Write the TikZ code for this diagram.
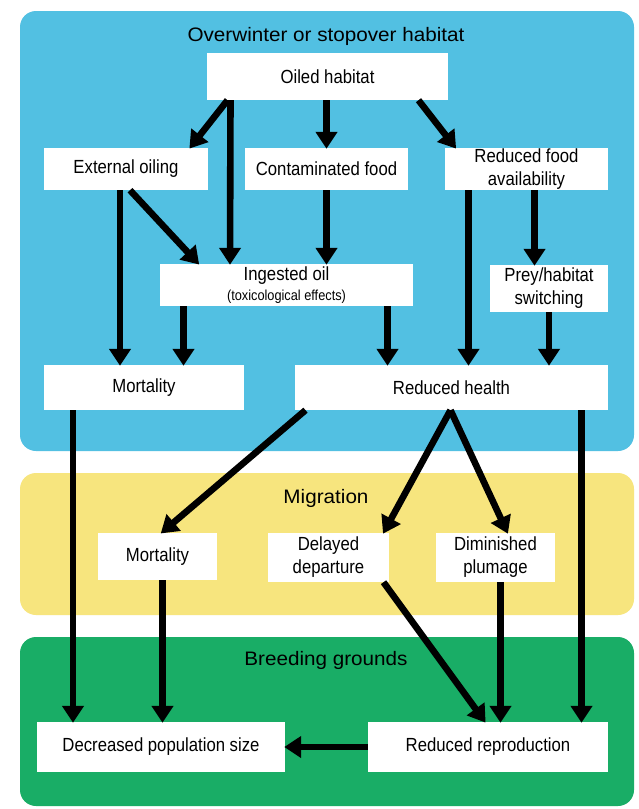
\documentclass[tikz,border=0pt]{standalone}
\usepackage{fontspec}
\setmainfont{Liberation Sans}[FakeStretch=0.88]
\newfontfamily\titlefont{Liberation Sans}[FakeStretch=1.06]
\usetikzlibrary{arrows.meta}
\definecolor{pblue}{HTML}{52C0E2}
\definecolor{pyellow}{HTML}{F7E57E}
\definecolor{pgreen}{HTML}{19AD66}
\begin{document}
\begin{tikzpicture}[x=1pt,y=-1pt,
  panel/.style={rounded corners=16pt},
  bx/.style={fill=white, inner sep=0pt, align=center, font=\fontsize{19}{23}\selectfont},
  ttl/.style={font=\titlefont\fontsize{19.5}{22}\selectfont},
  arr/.style={line width=6.6pt, -{Triangle[length=17pt,width=21pt]}, shorten >=-1pt}]
\useasboundingbox (0,0) rectangle (638,809);
\fill[white] (0,0) rectangle (638,809);
\fill[pblue, panel] (20,11) rectangle (634,451);
\fill[pyellow, panel] (20,473) rectangle (634,615);
\fill[pgreen, panel] (20,637) rectangle (634,806);

\node[ttl] (t1) at (326,36) {Overwinter or stopover habitat};
\node[ttl] (t2) at (326,498) {Migration};
\node[ttl] (t3) at (326,660) {Breeding grounds};

\node[bx, minimum width=241pt, minimum height=47pt] (oil) at (327.5,76.5) {Oiled habitat};
\node[bx, minimum width=164pt, minimum height=42pt] (ext) at (126,169) {External oiling};
\node[bx, minimum width=163pt, minimum height=42pt] (con) at (326.5,169) {Contaminated food};
\node[bx, minimum width=163pt, minimum height=42pt] (red) at (526.5,169) {Reduced food\\availability};
\node[bx, minimum width=253pt, minimum height=42pt] (ing) at (286.5,285) {Ingested oil\\[-3pt]{\fontsize{14.5}{15}\selectfont (toxicological effects)}};
\node[bx, minimum width=118pt, minimum height=47pt] (prey) at (549,288.5) {Prey/habitat\\switching};
\node[bx, minimum width=200pt, minimum height=45pt] (mort) at (144,387.5) {Mortality};
\node[bx, minimum width=313pt, minimum height=45pt] (hlth) at (451.5,387.5) {Reduced health};
\node[bx, minimum width=119pt, minimum height=47pt] (mort2) at (157.5,556.5) {Mortality};
\node[bx, minimum width=121pt, minimum height=49pt] (del) at (328.5,557.5) {Delayed\\departure};
\node[bx, minimum width=119pt, minimum height=49pt] (dim) at (495.5,557.5) {Diminished\\plumage};
\node[bx, minimum width=248pt, minimum height=50pt] (dec) at (161,747) {Decreased population size};
\node[bx, minimum width=240pt, minimum height=50pt] (rep) at (488,747) {Reduced reproduction};

% overwinter arrows
\draw[arr] ([xshift=-100pt]oil.south) -- ([xshift=64pt]ext.north);
\draw[arr] ([xshift=-97pt]oil.south) -- ([xshift=-56.5pt]ing.north);
\draw[arr] (oil.south -| con.north) -- (con.north);
\draw[arr] ([xshift=91pt]oil.south) -- ([xshift=-71pt]red.north);
\draw[arr] ([xshift=-6pt]ext.south) -- ([xshift=-6pt]ext.south |- mort.north);
\draw[arr] ([xshift=4pt]ext.south) -- ([xshift=-88pt]ing.north);
\draw[arr] (con.south) -- (con.south |- ing.north);
\draw[arr] ([xshift=-58pt]red.south) -- ([xshift=-58pt]red.south |- hlth.north);
\draw[arr] ([xshift=8pt]red.south) -- ([xshift=8pt]red.south |- prey.north);
\draw[arr] ([xshift=-103pt]ing.south) -- ([xshift=-103pt]ing.south |- mort.north);
\draw[arr] ([xshift=101pt]ing.south) -- ([xshift=101pt]ing.south |- hlth.north);
\draw[arr] (prey.south) -- (prey.south |- hlth.north);
% to migration / breeding
\draw[arr] ([xshift=-71pt]mort.south) -- ([xshift=-71pt]mort.south |- dec.north);
\draw[arr] ([xshift=-146pt]hlth.south) -- ([xshift=4pt]mort2.north);
\draw[arr] ([xshift=-1pt]hlth.south) -- ([xshift=55pt]del.north);
\draw[arr] ([xshift=-1pt]hlth.south) -- ([xshift=12pt]dim.north);
\draw[arr] ([xshift=130pt]hlth.south) -- ([xshift=130pt]hlth.south |- rep.north);
\draw[arr] ([xshift=5pt]mort2.south) -- ([xshift=5pt]mort2.south |- dec.north);
\draw[arr] ([xshift=55pt]del.south) -- ([xshift=-3pt]rep.north);
\draw[arr] ([xshift=5pt]dim.south) -- ([xshift=5pt]dim.south |- rep.north);
\draw[arr] (rep.west) -- (dec.east);
\end{tikzpicture}
\end{document}
